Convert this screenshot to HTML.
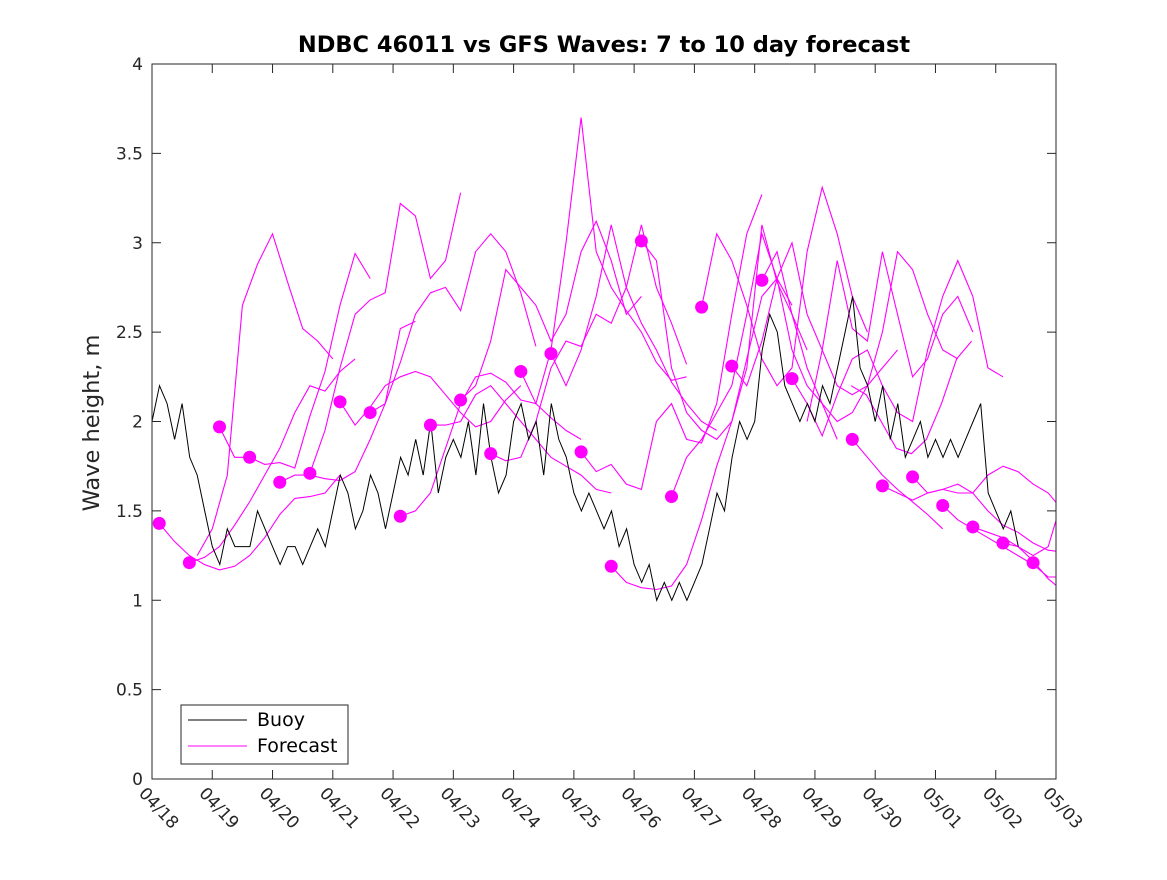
<!DOCTYPE html>
<html><head><meta charset="utf-8"><style>
body{margin:0;background:#fff;}
svg{font-family:"DejaVu Sans","Liberation Sans",sans-serif;}
</style></head><body>
<svg id="chart" width="1167" height="875" xmlns="http://www.w3.org/2000/svg">
<defs><clipPath id="plotclip"><rect x="152" y="64" width="904" height="715"/></clipPath></defs>
<rect width="1167" height="875" fill="#fff"/>
<text x="604" y="52" text-anchor="middle" font-size="22.5" font-weight="bold" fill="#000">NDBC 46011 vs GFS Waves: 7 to 10 day forecast</text>
<text transform="translate(99,423) rotate(-90)" text-anchor="middle" font-size="22.5" fill="#262626">Wave height, m</text>
<g id="grid"></g>
<g id="series" clip-path="url(#plotclip)"></g>
<rect x="152" y="64" width="904" height="715" fill="none" stroke="#262626" stroke-width="1"/>
<g>
<rect x="181" y="705" width="167" height="59" fill="#fff" stroke="#262626"/>
<line x1="188" y1="720" x2="247" y2="720" stroke="#000"/>
<text x="257" y="726" font-size="19" fill="#000">Buoy</text>
<line x1="188" y1="746" x2="247" y2="746" stroke="#f0f"/>
<text x="257" y="752" font-size="19" fill="#000">Forecast</text>
</g>
</svg>
<script>
const xLabels=["04/18","04/19","04/20","04/21","04/22","04/23","04/24","04/25","04/26","04/27","04/28","04/29","04/30","05/01","05/02","05/03"];
const yTicks=[0,0.5,1,1.5,2,2.5,3,3.5,4];
const buoyStep=0.125;
const buoyValues=[2.0,2.2,2.1,1.9,2.1,1.8,1.7,1.5,
1.3,1.2,1.4,1.3,1.3,1.3,1.5,1.4,
1.3,1.2,1.3,1.3,1.2,1.3,1.4,1.3,
1.5,1.7,1.6,1.4,1.5,1.7,1.6,1.4,
1.6,1.8,1.7,1.9,1.7,2.0,1.6,1.8,
1.9,1.8,2.0,1.7,2.1,1.8,1.6,1.7,
2.0,2.1,1.9,2.0,1.7,2.1,1.9,1.8,
1.6,1.5,1.6,1.5,1.4,1.5,1.3,1.4,
1.2,1.1,1.2,1.0,1.1,1.0,1.1,1.0,
1.1,1.2,1.4,1.6,1.5,1.8,2.0,1.9,
2.0,2.4,2.6,2.5,2.2,2.1,2.0,2.1,
2.0,2.2,2.1,2.3,2.5,2.7,2.3,2.2,
2.0,2.2,1.9,2.1,1.8,1.9,2.0,1.8,
1.9,1.8,1.9,1.8,1.9,2.0,2.1,1.6,
1.5,1.4,1.5,1.3];
const fcStep=0.25;
const fcStarts=[0.12,0.62,0.75,1.12,2.12,2.62,3.12,3.62,4.12,4.62,5.12,5.62,6.12,6.62,7.12,7.62,8.12,8.62,9.12,9.62,10.12,10.62,10.87,11.6,11.62,12.12,12.62,13.12,13.62,14.12];
const fcValues=[
[1.43,1.33,1.25,1.2,1.17,1.19,1.25,1.35,1.48,1.57,1.58,1.6,1.7],
[1.21,1.24,1.3,1.42,1.55,1.7,1.85,2.05,2.2,2.17,2.28,2.35],
[1.25,1.4,1.7,2.65,2.88,3.05,2.78,2.52,2.45,2.35],
[1.97,1.8,1.8,1.76,1.77,1.74,2.03,2.28,2.65,2.94,2.8],
[1.66,1.7,1.7,1.68,1.67,1.72,1.9,2.1,2.52,2.56],
[1.71,1.95,2.3,2.6,2.68,2.72,3.22,3.15,2.8,2.9,3.28],
[2.11,1.98,2.08,2.2,2.25,2.28,2.25,2.15,2.05,1.97,2.0,2.12,2.2],
[2.05,2.1,2.33,2.6,2.72,2.75,2.62,2.95,3.05,2.95,2.72,2.42],
[1.47,1.5,1.6,1.85,2.1,2.25,2.27,2.22,2.12,2.1,2.02,1.95,1.9],
[1.98,1.98,2.0,2.15,2.2,2.1,2.0,1.9,1.8,1.75,1.7,1.62,1.6],
[2.12,2.2,2.45,2.85,2.75,2.65,2.45,2.6,2.95,3.12,2.9,2.6,2.7],
[1.82,1.78,1.8,2.0,2.3,2.45,2.42,2.6,2.55,2.75,3.1,2.75,2.55,2.32],
[2.28,2.1,2.4,3.0,3.7,2.95,2.75,2.62,2.5,2.33,2.23,2.25],
[2.38,2.2,2.4,2.7,3.1,2.75,2.55,2.4,2.22,2.1,2.0,1.95],
[1.83,1.72,1.76,1.65,1.62,2.0,2.1,1.9,1.88,2.1,2.6,3.05,3.27],
[1.19,1.1,1.07,1.06,1.08,1.2,1.45,1.75,2.0,2.35,2.7,2.8,2.65],
[3.01,2.9,2.3,2.05,1.95,1.9,2.0,2.3,3.1,2.78,2.6,2.4],
[1.58,1.8,1.9,2.05,2.2,2.6,3.05,2.8,2.4,2.2,2.1,1.9],
[2.64,3.05,2.9,2.65,2.35,2.2,2.3,2.95,3.31,3.05,2.7,2.5],
[2.31,2.2,2.45,2.8,3.0,2.6,2.4,2.2,2.15,2.2,2.3,2.4],
[2.79,2.95,2.6,2.3,2.1,2.0,2.05,2.2,2.5,2.95,2.85,2.6,2.4,2.35],
[2.24,2.1,1.92,2.15,2.35,2.4,2.2,2.05,2.0,2.4,2.7,2.9,2.7,2.3,2.25],
[2.0,2.4,2.9,2.52,2.45,2.95,2.6,2.25,2.35,2.6,2.7,2.5],
[2.2,2.15,2.0,1.85,1.82,1.9,2.1,2.35,2.45],
[1.9,1.8,1.7,1.62,1.55,1.48,1.4],
[1.64,1.6,1.56,1.6,1.62,1.6,1.6,1.7,1.75,1.72,1.65,1.6,1.5],
[1.69,1.6,1.62,1.65,1.6,1.5,1.42,1.38,1.32,1.28,1.27,1.25,1.26],
[1.53,1.45,1.4,1.35,1.3,1.25,1.2,1.13,1.13,1.18,1.25,1.4],
[1.41,1.38,1.35,1.3,1.22,1.12,1.05,1.02,1.02,1.06],
[1.32,1.3,1.25,1.3,1.58]];
const dotDays=[0.12,0.62,1.12,1.62,2.12,2.62,3.12,3.62,4.12,4.62,5.12,5.62,6.12,6.62,7.12,7.62,8.12,8.62,9.12,9.62,10.12,10.62,11.62,12.12,12.62,13.12,13.62,14.12,14.62];
const dotValues=[1.43,1.21,1.97,1.80,1.66,1.71,2.11,2.05,1.47,1.98,2.12,1.82,2.28,2.38,1.83,1.19,3.01,1.58,2.64,2.31,2.79,2.24,1.90,1.64,1.69,1.53,1.41,1.32,1.21];

const X0=152,X1=1056,Y0=779,Y1=64;
function xs(d){return X0+(d/15)*(X1-X0);}
function ys(v){return Y0-(v/4)*(Y0-Y1);}
const NS="http://www.w3.org/2000/svg";
const grid=document.getElementById('grid'),ser=document.getElementById('series');
function mk(tag,attrs,parent){const e=document.createElementNS(NS,tag);for(const k in attrs)e.setAttribute(k,attrs[k]);parent.appendChild(e);return e;}
yTicks.forEach(v=>{
  const y=ys(v);
  const t=mk('line',{x1:X0,x2:X0+9,y1:y,y2:y,stroke:'#262626'},grid);
  
  
  const t2=mk('line',{x1:X1-9,x2:X1,y1:y,y2:y,stroke:'#262626'},grid);
  
  
  const l=mk('text',{x:X0-9,y:y+6,'text-anchor':'end','font-size':17,fill:'#262626'},grid);
  l.textContent=String(v);
  
  
});
xLabels.forEach((s,i)=>{
  const x=xs(i);
  const t=mk('line',{x1:x,x2:x,y1:Y0,y2:Y0-9,stroke:'#262626'},grid);
  
  
  const t2=mk('line',{x1:x,x2:x,y1:Y1,y2:Y1+9,stroke:'#262626'},grid);
  
  
  const l=mk('text',{transform:`translate(${x-14},${Y0+15}) rotate(47)`,'font-size':17,fill:'#262626'},grid);
  l.textContent=s;
  
  
});
fcValues.forEach((vals,i)=>{
  const pts=vals.map((v,j)=>xs(fcStarts[i]+j*fcStep).toFixed(1)+','+ys(v).toFixed(1)).join(' ');
  const p=mk('polyline',{points:pts,fill:'none',stroke:'#f0f','stroke-width':1.1},ser);
  
  
});
const bp=buoyValues.map((v,i)=>xs(i*buoyStep).toFixed(1)+','+ys(v).toFixed(1));
const b=mk('polyline',{points:bp.join(' '),fill:'none',stroke:'#000','stroke-width':1},ser);


dotDays.forEach((d,i)=>{
  const c=mk('circle',{cx:xs(d),cy:ys(dotValues[i]),r:6.5,fill:'#f0f'},ser);
  
  
});
</script>
</body></html>
